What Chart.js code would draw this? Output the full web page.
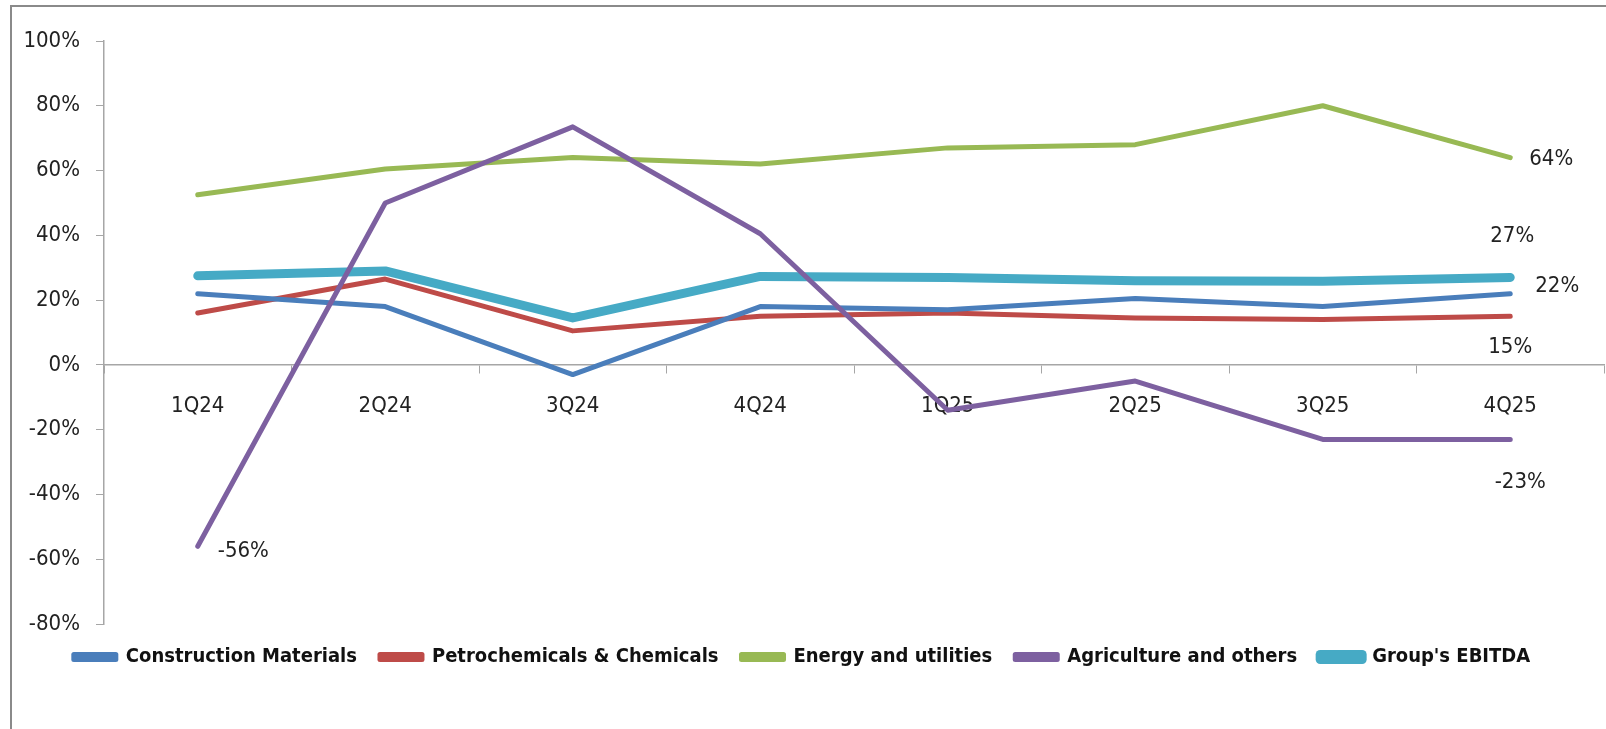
<!DOCTYPE html>
<html>
<head>
<meta charset="utf-8">
<script src="https://cdn.jsdelivr.net/npm/chart.js@4.4.1/dist/chart.umd.min.js"></script>
<style>
	html, body { margin: 0; padding: 0; background: #fff; }
	#moldura { position: absolute; left: 10px; top: 5px; width: 1700px; height: 800px;
		border-left: 2px solid #8a8a8a; border-top: 2px solid #8a8a8a; }
	#grafico { position: absolute; left: 0; top: 0; }
</style>
</head>
<body>
<div id="moldura"></div>
<canvas id="grafico" width="1606" height="729"></canvas>
<script>
var trimestres = ['1Q24', '2Q24', '3Q24', '4Q24', '1Q25', '2Q25', '3Q25', '4Q25'];
var construcao = [22, 18, -3, 18, 17, 20.5, 18, 22];
var petroquimicos = [16, 26.5, 10.5, 15, 16, 14.5, 14, 15];
var energia = [52.5, 60.5, 64, 62, 67, 68, 80, 64];
var agricultura = [-56, 50, 73.5, 40.5, -14, -5, -23, -23];
var ebitdaGrupo = [27.5, 29, 14.5, 27.3, 27, 26, 25.8, 27];
var ticksY = [-80, -60, -40, -20, 0, 20, 40, 60, 80, 100];

var fonteNormal = "'Liberation Sans Narrow', 'DejaVu Sans Condensed', 'Liberation Sans', sans-serif";

// rotulos so nas pontas, como no original
var rotulos = [
	{ serie: 3, ponto: 0, dx: 20, dy: 5, align: 'left' },
	{ serie: 2, ponto: 7, dx: 19, dy: 2, align: 'left' },
	{ serie: 4, ponto: 7, dx: 2, dy: -41, align: 'center' },
	{ serie: 0, ponto: 7, dx: 25, dy: -7, align: 'left' },
	{ serie: 1, ponto: 7, dx: 0, dy: 31, align: 'center' },
	{ serie: 3, ponto: 7, dx: 10, dy: 43, align: 'center' }
];

var pluginRotulos = {
	id: 'rotulos',
	afterDatasetsDraw: function(chart) {
		var ctx = chart.ctx;
		ctx.save();
		ctx.font = '22px ' + fonteNormal;
		ctx.fillStyle = '#222';
		ctx.textBaseline = 'middle';
		rotulos.forEach(function(r) {
			var el = chart.getDatasetMeta(r.serie).data[r.ponto];
			var valor = chart.data.datasets[r.serie].data[r.ponto];
			ctx.textAlign = r.align;
			ctx.fillText(Math.round(valor) + '%', el.x + r.dx, el.y + r.dy);
		});
		ctx.restore();
	}
};

function serie(label, dados, cor, largura, ordem) {
	return {
		label: label,
		data: dados,
		borderColor: cor,
		backgroundColor: cor,
		borderWidth: largura,
		pointRadius: 0,
		pointHoverRadius: 0,
		tension: 0,
		borderJoinStyle: 'round',
		borderCapStyle: 'round',
		order: ordem
	};
}

var grafico = new Chart(document.getElementById('grafico').getContext('2d'), {
	type: 'line',
	data: {
		labels: trimestres,
		datasets: [
			serie('Construction Materials', construcao, '#4a7ebb', 5, 2),
			serie('Petrochemicals & Chemicals', petroquimicos, '#be4b48', 5, 3),
			serie('Energy and utilities', energia, '#98b954', 5, 4),
			serie('Agriculture and others', agricultura, '#7d60a0', 5, 1),
			serie("Group's EBITDA", ebitdaGrupo, '#46aac5', 9, 5)
		]
	},
	options: {
		responsive: false,
		animation: false,
		layout: { padding: { left: 0, right: 2, top: 41, bottom: 52 } },
		plugins: {
			tooltip: { enabled: false },
			legend: {
				position: 'bottom',
				labels: {
					boxWidth: 42,
					boxHeight: 5,
					padding: 23,
					color: '#111',
					font: { family: fonteNormal, size: 20, weight: 'bold' },
					sort: function(a, b) { return a.datasetIndex - b.datasetIndex; }
				}
			}
		},
		scales: {
			x: {
				position: { y: 0 },
				offset: true,
				grid: { display: true, offset: true, drawOnChartArea: false, drawTicks: true, tickLength: 8, color: '#a6a6a6' },
				border: { display: true, color: '#a6a6a6', width: 1.5 },
				ticks: { color: '#222', padding: 20, maxRotation: 0, font: { family: fonteNormal, size: 22 } }
			},
			y: {
				min: -80,
				max: 100,
				afterBuildTicks: function(escala) {
					escala.ticks = ticksY.map(function(v) { return { value: v }; });
				},
				afterFit: function(escala) { escala.width = 104; },
				grid: { display: true, drawOnChartArea: false, drawTicks: true, tickLength: 8, color: '#a6a6a6' },
				border: { display: true, color: '#a6a6a6', width: 1.5 },
				ticks: {
					color: '#222',
					padding: 16,
					font: { family: fonteNormal, size: 22 },
					callback: function(v) { return v + '%'; }
				}
			}
		}
	},
	plugins: [pluginRotulos]
});
</script>
</body>
</html>
